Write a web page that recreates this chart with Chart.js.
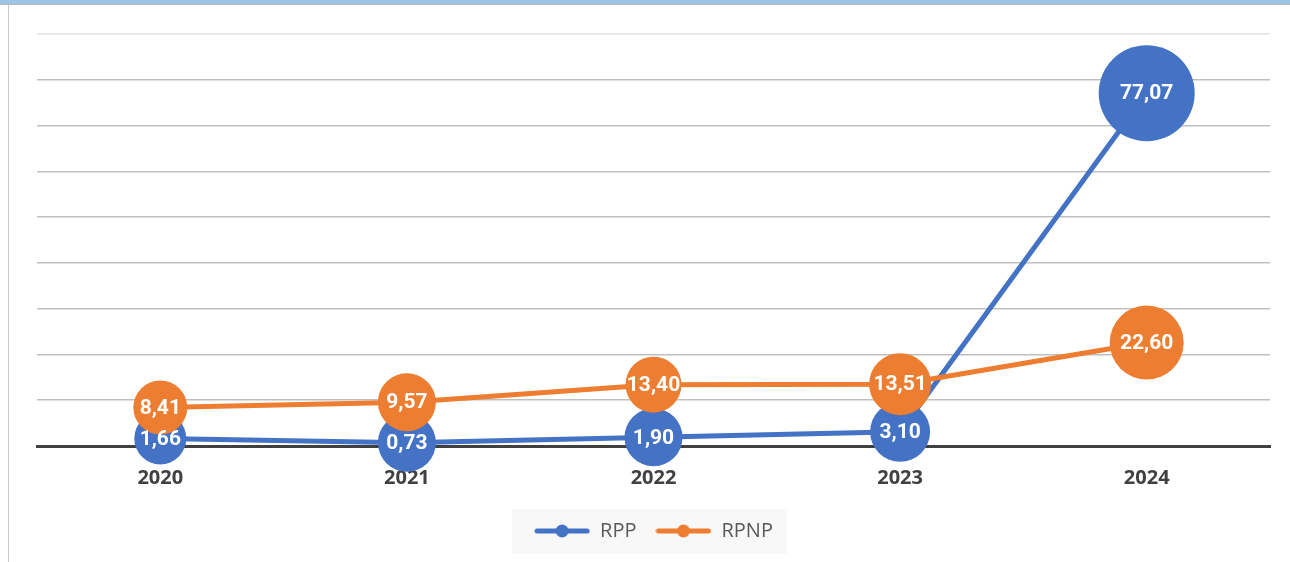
<!DOCTYPE html>
<html>
<head>
<meta charset="utf-8">
<script src="https://cdn.jsdelivr.net/npm/chart.js@4/dist/chart.umd.min.js"></script>
<style>
    html, body { margin: 0; padding: 0; background: #fff; }
    #wrap { position: relative; width: 1290px; height: 562px; overflow: hidden; }
    #topStrip { position: absolute; left: 0; top: 0; width: 1290px; height: 4px; background: #9dc3e6; border-bottom: 1px solid #b8b8b8; }
    #leftEdge { position: absolute; left: 8px; top: 5px; width: 1px; height: 557px; background: #c8c8c8; }
    canvas { position: absolute; left: 0; top: 0; }
</style>
</head>
<body>
<div id="wrap">
    <canvas id="trendChart" width="1290" height="562"></canvas>
    <div id="topStrip"></div>
    <div id="leftEdge"></div>
</div>
<script>
const years = ['2020', '2021', '2022', '2023', '2024'];
const rppValues = [1.66, 0.73, 1.90, 3.10, 77.07];
const rpnpValues = [8.41, 9.57, 13.40, 13.51, 22.60];
const yTicks = [0, 10, 20, 30, 40, 50, 60, 70, 80, 90];

const COLORS = {
    blue: '#4472c4',
    orange: '#ed7d31',
    grid: '#bfbfbf',
    axis: '#404040',
    text: '#404040',
    legendText: '#595959',
};

// marker size per point (Excel bubbles grow with label size)
const rppRadius = [26, 29, 29, 30, 48];
const rpnpRadius = [27, 29, 28, 31, 37];

// small line+dot symbol for the legend
function legendSymbol(color) {
    const c = document.createElement('canvas');
    c.width = 56; c.height = 14;
    const g = c.getContext('2d');
    g.strokeStyle = color;
    g.lineWidth = 5;
    g.lineCap = 'round';
    g.beginPath(); g.moveTo(3, 7); g.lineTo(53, 7); g.stroke();
    g.fillStyle = color;
    g.beginPath(); g.arc(28, 7, 6.5, 0, Math.PI * 2); g.fill();
    return c;
}

const labelPlugin = {
    id: 'pointLabels',
    afterDatasetsDraw(chart) {
        const ctx = chart.ctx;
        ctx.save();
        ctx.fillStyle = '#fff';
        ctx.font = 'bold 21px Roboto, "Open Sans", sans-serif';
        ctx.textAlign = 'center';
        ctx.textBaseline = 'middle';
        chart.data.datasets.forEach((ds, i) => {
            const meta = chart.getDatasetMeta(i);
            meta.data.forEach((pt, j) => {
                ctx.fillText(ds.data[j].toFixed(2).replace('.', ','), pt.x, pt.y + 1);
            });
        });
        ctx.restore();
    }
};

const legendBg = {
    id: 'legendBg',
    beforeDraw(chart) {
        const boxes = chart.legend && chart.legend.legendHitBoxes;
        if (!boxes || !boxes.length) return;
        const l = Math.min(...boxes.map(b => b.left)) - 22;
        const r = Math.max(...boxes.map(b => b.left + b.width)) + 14;
        const mid = boxes[0].top + boxes[0].height / 2;
        const ctx = chart.ctx;
        ctx.save();
        ctx.fillStyle = '#f8f8f8';
        ctx.fillRect(l, mid - 22, r - l, 45);
        ctx.restore();
    }
};

const ctx = document.getElementById('trendChart').getContext('2d');
new Chart(ctx, {
    type: 'line',
    data: {
        labels: years,
        datasets: [{
            label: 'RPP',
            data: rppValues,
            borderColor: COLORS.blue,
            backgroundColor: COLORS.blue,
            borderWidth: 5,
            pointRadius: rppRadius,
            pointBackgroundColor: COLORS.blue,
            pointBorderWidth: 0,
            clip: false,
            order: 1
        }, {
            label: 'RPNP',
            data: rpnpValues,
            borderColor: COLORS.orange,
            backgroundColor: COLORS.orange,
            borderWidth: 5,
            pointRadius: rpnpRadius,
            pointBackgroundColor: COLORS.orange,
            pointBorderWidth: 0,
            clip: false,
            order: 0
        }]
    },
    options: {
        responsive: false,
        animation: false,
        layout: { autoPadding: false, padding: { left: 37, right: 20, top: 34, bottom: 11 } },
        plugins: {
            tooltip: { enabled: false },
            legend: {
                position: 'bottom',
                labels: {
                    usePointStyle: true,
                    pointStyleWidth: 56,
                    padding: 19,
                    color: COLORS.legendText,
                    font: { family: '"Open Sans", sans-serif', size: 20 },
                    generateLabels(chart) {
                        return chart.data.datasets.map((ds, i) => ({
                            text: ds.label,
                            pointStyle: legendSymbol(ds.borderColor),
                            fillStyle: ds.borderColor,
                            strokeStyle: ds.borderColor,
                            lineWidth: 0,
                            fontColor: COLORS.legendText,
                            datasetIndex: i
                        }));
                    }
                }
            }
        },
        scales: {
            x: {
                offset: true,
                grid: { display: false },
                border: { color: COLORS.axis, width: 3 },
                ticks: {
                    color: COLORS.text,
                    padding: 12,
                    font: { family: '"Open Sans", sans-serif', size: 20, weight: 'bold' }
                }
            },
            y: {
                min: yTicks[0],
                max: yTicks[yTicks.length - 1],
                afterBuildTicks(scale) { scale.ticks = yTicks.map(v => ({ value: v })); },
                afterFit(scale) { scale.width = 0; },
                border: { display: false },
                grid: {
                    color: c => c.tick.value === 90 ? '#e2e2e2' : COLORS.grid,
                    lineWidth: 1.5,
                    drawTicks: false
                },
                ticks: { display: false }
            }
        }
    },
    plugins: [legendBg, labelPlugin]
});
</script>
</body>
</html>
